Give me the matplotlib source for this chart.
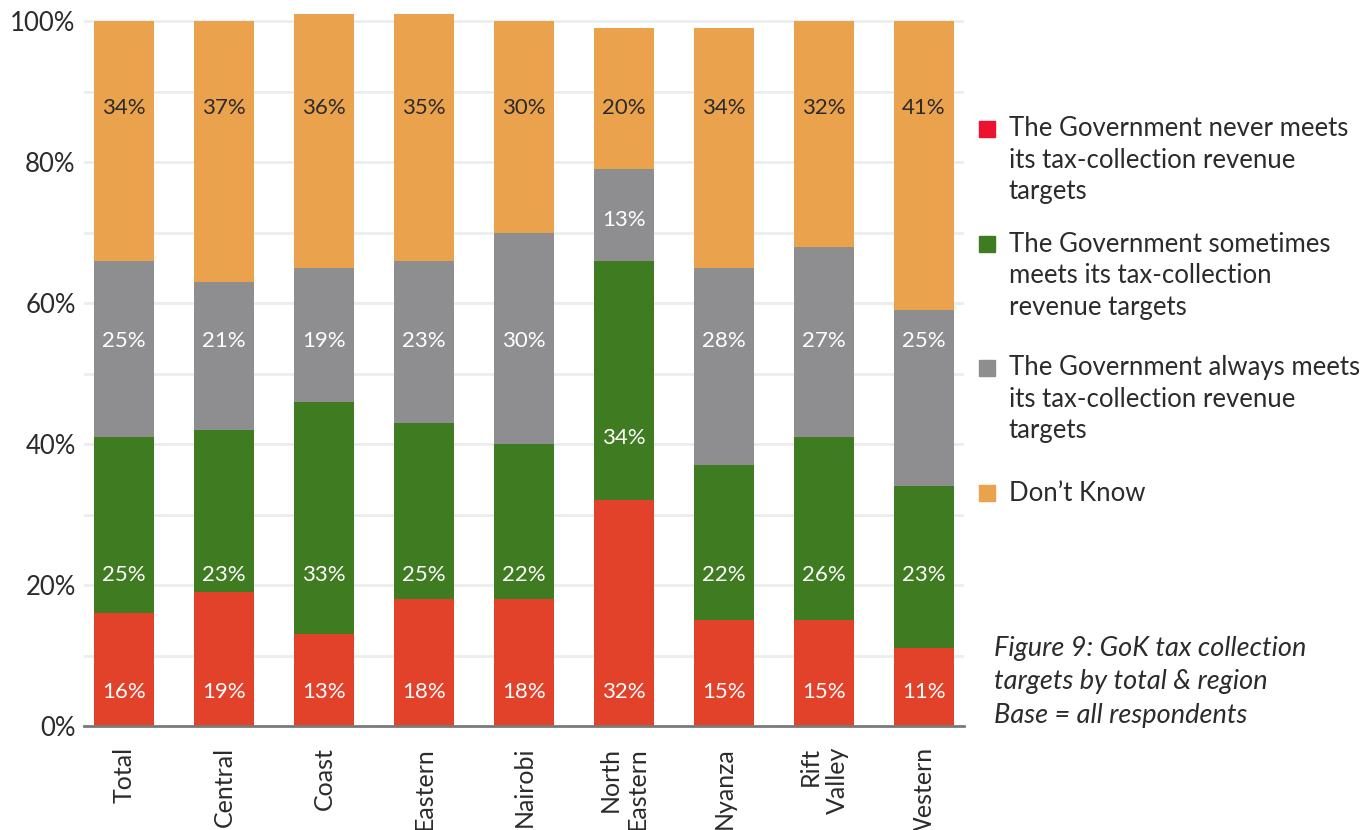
import matplotlib
matplotlib.use("Agg")
import matplotlib.pyplot as plt
import numpy as np

plt.rcParams["font.family"] = ["Lato", "DejaVu Sans"]

# ---- data ----
regions = ["Total", "Central", "Coast", "Eastern", "Nairobi",
           "North\nEastern", "Nyanza", "Rift\nValley", "Western"]
never = [16, 19, 13, 18, 18, 32, 15, 15, 11]
sometimes = [25, 23, 33, 25, 22, 34, 22, 26, 23]
always = [25, 21, 19, 23, 30, 13, 28, 27, 25]
dont_know = [34, 37, 36, 35, 30, 20, 34, 32, 41]

series_labels = [
    "The Government never meets\nits tax-collection revenue\ntargets",
    "The Government sometimes\nmeets its tax-collection\nrevenue targets",
    "The Government always meets\nits tax-collection revenue\ntargets",
    "Don\u2019t Know",
]
caption = "Figure 9: GoK tax collection\ntargets by total & region\nBase = all respondents"

# ---- style ----
RED, GREEN, GREY, ORANGE = "#E2412A", "#3E7B21", "#8E8E91", "#EBA24C"
LEGEND_RED = "#EC1230"
TXT = "#2B2B2B"

fig = plt.figure(figsize=(13.66, 8.3), dpi=100)
ax = fig.add_axes([0.0615, 0.1253, 0.644, 0.8663])

x = np.arange(len(regions))
w = 0.6
series = [never, sometimes, always, dont_know]
colors = [RED, GREEN, GREY, ORANGE]
bottom = np.zeros(len(regions))
for vals, c in zip(series, colors):
    ax.bar(x, vals, w, bottom=bottom, color=c, edgecolor="none", zorder=2)
    bottom += np.array(vals)

# value labels sit at fixed heights in the original (North Eastern differs)
label_y = [4.8, 21.4, 54.6, 87.7]
ne_label_y = {1: 40.9, 2: 71.8}
label_col = ["white", "white", "white", TXT]
for s, vals in enumerate(series):
    for i, v in enumerate(vals):
        y = label_y[s]
        if regions[i] == "North\nEastern" and s in ne_label_y:
            y = ne_label_y[s]
        ax.text(x[i], y, f"{v}%", ha="center", va="center",
                fontsize=16, color=label_col[s], zorder=3)

ax.set_xlim(-0.4, 8.4)
ax.set_ylim(0, 102)
ax.set_yticks(np.arange(0, 101, 10), minor=True)
ax.set_yticks(np.arange(0, 101, 20))
ax.set_yticklabels([f"{v}%" for v in range(0, 101, 20)], fontsize=18.5, color=TXT)
ax.grid(axis="y", which="both", color="#EDEDED", lw=2, zorder=0)
ax.set_axisbelow(True)
ax.tick_params(axis="y", which="both", length=0, pad=6)
ax.set_xticks(x)
ax.set_xticklabels(regions, rotation=90, fontsize=18, color=TXT,
                   va="top", ha="center", multialignment="right")
ax.tick_params(axis="x", length=0, pad=15)
for side in ("left", "right", "top"):
    ax.spines[side].set_visible(False)
ax.spines["bottom"].set_color("#7A7A7A")
ax.spines["bottom"].set_linewidth(2)

# legend drawn by hand so the wrapped lines keep the original spacing
legend_colors = [LEGEND_RED, GREEN, GREY, ORANGE]
item_top = [0.860, 0.721, 0.572, 0.421]   # figure fraction of each item's first line
for c, lab, yt in zip(legend_colors, series_labels, item_top):
    fig.patches.append(plt.Rectangle((0.7167, yt - 0.0245), 0.0117, 0.0193,
                                     transform=fig.transFigure, color=c))
    fig.text(0.7385, yt, lab, fontsize=18.5, color=TXT, va="top", ha="left",
             linespacing=1.33)

fig.text(0.728, 0.234, caption, fontsize=19.5, style="italic", color=TXT,
         va="top", ha="left", linespacing=1.42)

fig.savefig("out.png", dpi=100, facecolor="white")
